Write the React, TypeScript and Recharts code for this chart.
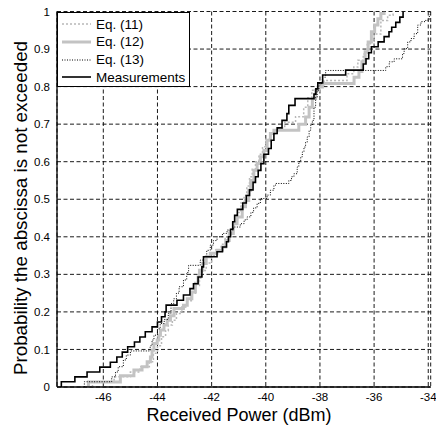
import React from "react";
import { LineChart, Line, XAxis, YAxis, CartesianGrid, Legend } from "recharts";

const xTicks = [-46, -44, -42, -40, -38, -36, -34];
const yTicks = [0, 0.1, 0.2, 0.3, 0.4, 0.5, 0.6, 0.7, 0.8, 0.9, 1];
const seriesNames = ["Eq. (11)", "Eq. (12)", "Eq. (13)", "Measurements"];
const xLabel = "Received Power (dBm)";
const yLabel = "Probability the abscissa is not exceeded";

const eq11X = [-46.4, -46.4, -45.6, -45.0, -44.65, -44.3, -44.15, -44.0, -43.85, -43.7, -43.6, -43.45, -43.3, -43.1, -42.9, -42.75, -42.6, -42.45, -42.35, -42.2, -42.0, -41.85, -41.65, -41.5, -41.35, -41.2, -41.05, -40.92, -40.8, -40.7, -40.6, -40.5, -40.38, -40.25, -40.12, -40.0, -39.85, -39.6, -39.3, -38.9, -38.6, -38.45, -38.3, -38.1, -37.85, -37.0, -36.75, -36.6, -36.4, -36.25, -36.0, -35.75, -35.5, -35.3];
const eq11Y = [0, 0.013, 0.027, 0.04, 0.054, 0.067, 0.09, 0.11, 0.134, 0.15, 0.165, 0.178, 0.196, 0.213, 0.23, 0.25, 0.27, 0.29, 0.31, 0.33, 0.35, 0.365, 0.38, 0.4, 0.42, 0.44, 0.465, 0.49, 0.51, 0.535, 0.56, 0.58, 0.6, 0.62, 0.64, 0.66, 0.675, 0.69, 0.705, 0.72, 0.745, 0.77, 0.79, 0.805, 0.816, 0.834, 0.852, 0.87, 0.887, 0.914, 0.94, 0.976, 0.99, 1.0];

const eq12X = [-46.55, -46.55, -45.37, -44.87, -44.57, -44.38, -44.26, -44.2, -44.13, -44.01, -43.95, -43.89, -43.76, -43.64, -43.52, -43.39, -43.04, -42.9, -42.73, -42.6, -42.5, -42.45, -42.33, -42.2, -42.05, -41.8, -41.6, -41.48, -41.35, -41.2, -41.06, -40.87, -40.75, -40.63, -40.56, -40.44, -40.32, -40.2, -40.07, -39.95, -39.83, -39.7, -38.78, -38.53, -38.4, -38.28, -38.16, -38.04, -37.91, -36.74, -36.56, -36.45, -36.33, -36.22, -36.1, -35.98, -35.86, -35.75, -35.63];
const eq12Y = [0, 0.013, 0.03, 0.045, 0.054, 0.067, 0.08, 0.098, 0.116, 0.125, 0.138, 0.152, 0.165, 0.178, 0.19, 0.209, 0.218, 0.235, 0.253, 0.276, 0.293, 0.311, 0.329, 0.347, 0.356, 0.364, 0.373, 0.39, 0.409, 0.435, 0.453, 0.48, 0.497, 0.524, 0.55, 0.577, 0.595, 0.613, 0.63, 0.657, 0.675, 0.684, 0.7, 0.719, 0.745, 0.768, 0.79, 0.799, 0.808, 0.825, 0.84, 0.866, 0.893, 0.919, 0.946, 0.964, 0.981, 0.995, 1.0];

const eq13X = [-46.7, -46.7, -45.69, -45.55, -45.45, -45.26, -45.15, -45.0, -44.27, -44.2, -44.13, -44.0, -43.9, -43.75, -43.6, -43.5, -43.4, -43.3, -43.2, -43.04, -42.92, -42.85, -42.42, -42.3, -42.18, -42.05, -41.93, -41.8, -41.6, -41.43, -41.19, -40.94, -40.8, -40.69, -40.55, -40.45, -40.32, -40.2, -39.95, -39.83, -39.7, -39.64, -39.15, -39.05, -38.96, -38.84, -38.78, -38.71, -38.65, -38.59, -38.53, -38.47, -38.4, -38.34, -38.28, -38.22, -38.16, -38.1, -38.04, -37.91, -37.79, -35.57, -35.44, -35.26, -34.95, -34.89, -34.76, -34.64, -34.52, -34.39, -34.27, -34.09, -33.96, -33.93];
const eq13Y = [0, 0.014, 0.027, 0.04, 0.054, 0.072, 0.085, 0.096, 0.11, 0.125, 0.138, 0.155, 0.169, 0.18, 0.196, 0.222, 0.235, 0.25, 0.267, 0.285, 0.305, 0.324, 0.338, 0.347, 0.364, 0.378, 0.39, 0.4, 0.409, 0.418, 0.426, 0.435, 0.445, 0.453, 0.465, 0.477, 0.489, 0.502, 0.511, 0.524, 0.537, 0.542, 0.55, 0.56, 0.568, 0.586, 0.6, 0.613, 0.626, 0.639, 0.652, 0.666, 0.684, 0.697, 0.71, 0.745, 0.772, 0.79, 0.808, 0.825, 0.843, 0.853, 0.866, 0.874, 0.888, 0.901, 0.919, 0.928, 0.941, 0.964, 0.973, 0.977, 0.99, 1.0];

const measX = [-47.55, -47.55, -47.05, -46.6, -46.13, -45.74, -45.5, -45.3, -45.1, -44.85, -44.65, -44.45, -44.2, -44.0, -43.85, -43.72, -43.68, -43.28, -43.04, -42.8, -42.67, -42.5, -42.36, -42.3, -41.8, -41.6, -41.45, -41.38, -41.3, -41.22, -41.15, -41.05, -40.85, -40.72, -40.6, -40.47, -40.38, -40.28, -40.18, -40.07, -39.9, -39.8, -39.7, -39.58, -39.4, -39.22, -39.15, -38.92, -38.22, -38.15, -38.08, -37.9, -37.05, -36.4, -36.3, -36.2, -36.1, -35.85, -35.63, -35.45, -35.35, -35.2, -35.05, -34.93];
const measY = [0, 0.014, 0.027, 0.04, 0.053, 0.066, 0.08, 0.093, 0.107, 0.12, 0.133, 0.147, 0.16, 0.173, 0.187, 0.2, 0.218, 0.231, 0.245, 0.262, 0.275, 0.293, 0.32, 0.347, 0.36, 0.373, 0.387, 0.4, 0.42, 0.44, 0.457, 0.473, 0.49, 0.51, 0.525, 0.545, 0.56, 0.577, 0.595, 0.62, 0.635, 0.657, 0.675, 0.69, 0.71, 0.728, 0.75, 0.768, 0.78, 0.794, 0.81, 0.831, 0.844, 0.86, 0.874, 0.89, 0.906, 0.919, 0.933, 0.946, 0.958, 0.971, 0.985, 1.0];

const toPts = (xs: number[], ys: number[]) => xs.map((x, i) => ({ x, y: ys[i] }));

const series = [
  { name: seriesNames[0], data: toPts(eq11X, eq11Y), stroke: "#b8b8b8", width: 1.5, dash: "2 2" },
  { name: seriesNames[1], data: toPts(eq12X, eq12Y), stroke: "#c3c3c3", width: 3, dash: undefined },
  { name: seriesNames[2], data: toPts(eq13X, eq13Y), stroke: "#000000", width: 1, dash: "1 1.5" },
  { name: seriesNames[3], data: toPts(measX, measY), stroke: "#000000", width: 1.6, dash: undefined },
];

const FONT = '"Liberation Sans", Arial, Helvetica, sans-serif';
const X_DOMAIN: [number, number] = [-47.71, -33.91];

const renderLegend = () => (
  <div
    style={{
      width: 133,
      height: 75,
      boxSizing: "border-box",
      border: "1px solid #000",
      background: "#fff",
      fontFamily: FONT,
      fontSize: 13.5,
      color: "#000",
      paddingTop: 2.5,
    }}
  >
    {series.map((s) => (
      <div key={s.name} style={{ display: "flex", alignItems: "center", height: 17.7 }}>
        <svg width={29} height={6} style={{ marginLeft: 4, marginRight: 5, display: "block" }}>
          <line x1={0} y1={3} x2={29} y2={3} stroke={s.stroke} strokeWidth={s.width} strokeDasharray={s.dash} />
        </svg>
        <span style={{ lineHeight: "17.7px" }}>{s.name}</span>
      </div>
    ))}
  </div>
);

const renderYLabel = () => (
  <text
    x={27}
    y={208}
    transform="rotate(-90, 27, 208)"
    textAnchor="middle"
    fontSize={18.8}
    fill="#000"
    fontFamily={FONT}
  >
    {yLabel}
  </text>
);

const renderXLabel = () => (
  <text x={239} y={420.5} textAnchor="middle" fontSize={18} fill="#000" fontFamily={FONT}>
    {xLabel}
  </text>
);

export default function App() {
  return (
    <div style={{ position: "absolute", left: 0, top: 0 }}>
      <LineChart
        width={436}
        height={426}
        margin={{ top: 11.5, right: 5.3, bottom: 0, left: 0 }}
        style={{ fontFamily: FONT }}
      >
        <CartesianGrid xAxisId="b" yAxisId="l" stroke="#000" strokeDasharray="4 2.5" strokeWidth={0.9} />
        <XAxis
          xAxisId="b"
          dataKey="x"
          type="number"
          domain={X_DOMAIN}
          ticks={xTicks}
          interval={0}
          allowDataOverflow
          height={39}
          tickSize={0}
          tickMargin={6}
          axisLine={{ stroke: "#000", strokeWidth: 1.3 }}
          tick={{ fill: "#000", fontSize: 11.5 }}
          label={{ content: renderXLabel }}
        />
        <XAxis
          xAxisId="t"
          orientation="top"
          dataKey="x"
          type="number"
          domain={X_DOMAIN}
          ticks={xTicks}
          allowDataOverflow
          height={0}
          tick={false}
          tickLine={false}
          axisLine={{ stroke: "#000", strokeWidth: 1.3 }}
        />
        <YAxis
          yAxisId="l"
          type="number"
          domain={[0, 1]}
          ticks={yTicks}
          interval={0}
          allowDataOverflow
          width={57}
          tickSize={0}
          tickMargin={7}
          axisLine={{ stroke: "#000", strokeWidth: 1.3 }}
          tick={{ fill: "#000", fontSize: 11.5 }}
          label={{ content: renderYLabel }}
        />
        <YAxis
          yAxisId="r"
          orientation="right"
          type="number"
          domain={[0, 1]}
          ticks={yTicks}
          width={0}
          tick={false}
          tickLine={false}
          axisLine={{ stroke: "#000", strokeWidth: 1.3 }}
        />
        <Legend
          layout="vertical"
          align="center"
          verticalAlign="middle"
          content={renderLegend}
          wrapperStyle={{ left: 57, top: 12, width: 133, height: 75 }}
        />
        {series.map((s) => (
          <Line
            key={s.name}
            xAxisId="b"
            yAxisId="l"
            data={s.data}
            dataKey="y"
            name={s.name}
            type="stepAfter"
            stroke={s.stroke}
            strokeWidth={s.width}
            strokeDasharray={s.dash}
            dot={false}
            activeDot={false}
            isAnimationActive={false}
          />
        ))}
      </LineChart>
    </div>
  );
}
